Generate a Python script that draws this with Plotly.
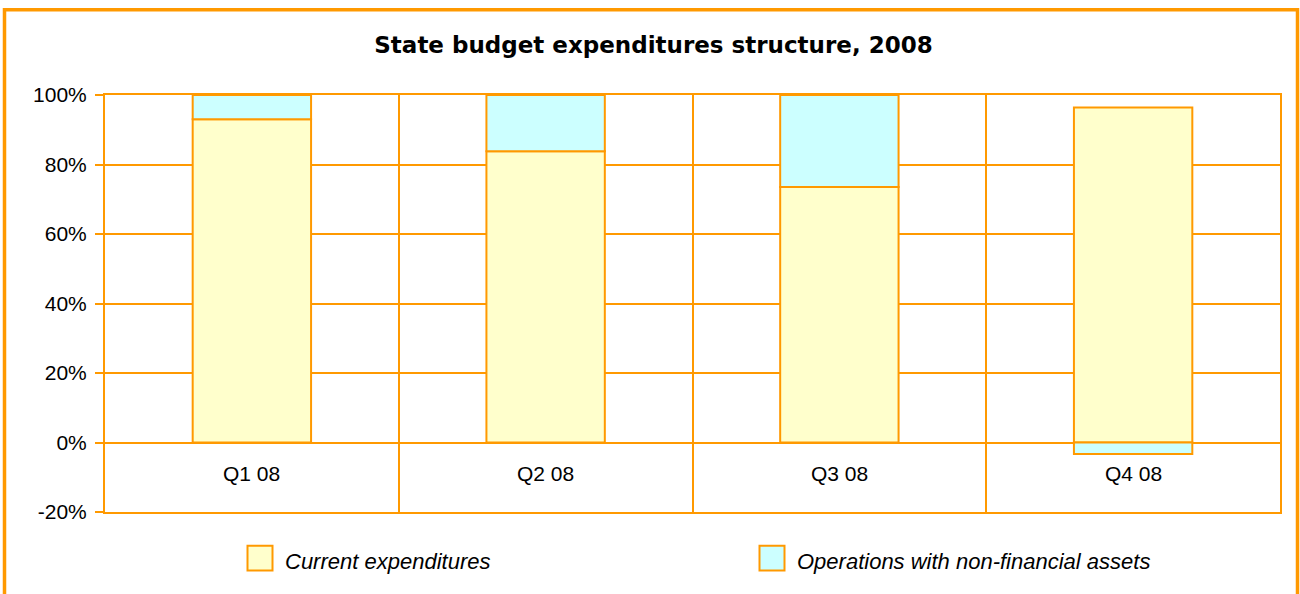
import plotly.graph_objects as go

categories = ["Q1 08", "Q2 08", "Q3 08", "Q4 08"]
current_exp = [93.0, 83.8, 73.5, 96.4]
nonfin_ops = [7.0, 16.2, 26.5, -3.3]
series_names = ["Current expenditures", "Operations with non-financial assets"]
y_ticks = [-20, 0, 20, 40, 60, 80, 100]
y_tick_labels = ["-20%", "0%", "20%", "40%", "60%", "80%", "100%"]

ORANGE = "#FF9900"
FILL_CUR = "#FFFFCC"
FILL_NF = "#CCFFFF"
FONT = "Liberation Sans, Arial, sans-serif"

W, H = 1300, 594
L, R, T, B = 105, 20, 94.5, 81.7
pw = W - L - R
ph = H - T - B


def px(x):
    return (x - L) / pw


def py(y):
    return (H - B - y) / ph


fig = go.Figure()
fig.add_trace(go.Bar(x=categories, y=current_exp, name=series_names[0],
                     marker=dict(color=FILL_CUR, line=dict(color=ORANGE, width=2)),
                     width=0.403, showlegend=False))
fig.add_trace(go.Bar(x=categories, y=nonfin_ops, name=series_names[1],
                     marker=dict(color=FILL_NF, line=dict(color=ORANGE, width=2)),
                     width=0.403, showlegend=False))

# category labels next to the zero line
for c in categories:
    fig.add_annotation(x=c, y=0, xref="x", yref="y", text=c, showarrow=False,
                       yanchor="middle", yshift=-31,
                       font=dict(family=FONT, size=21, color="#000000"))

# custom legend
legend_items = [(247.5, 272.5, 283, series_names[0], FILL_CUR),
                (759.5, 784.5, 795, series_names[1], FILL_NF)]
for x0, x1, tx, name, col in legend_items:
    fig.add_shape(type="rect", xref="paper", yref="paper",
                  x0=px(x0), x1=px(x1), y0=py(571), y1=py(546),
                  fillcolor=col, line=dict(color=ORANGE, width=2))
    fig.add_annotation(xref="paper", yref="paper", x=px(tx), y=py(562),
                       xanchor="left", yanchor="middle", showarrow=False,
                       text=name,
                       font=dict(family=FONT, size=22, style="italic", color="#000000"))

# outer frame
fig.add_shape(type="rect", xref="paper", yref="paper", layer="below",
              x0=px(4.5), x1=px(1297.5), y0=py(9), y1=py(640),
              line=dict(color=ORANGE, width=3.5), fillcolor="rgba(0,0,0,0)")

fig.update_layout(
    width=W, height=H,
    margin=dict(l=L, r=R, t=T, b=B, pad=0),
    paper_bgcolor="white", plot_bgcolor="white",
    barmode="relative", bargap=0.597,
    title=dict(text="<b>State budget expenditures structure, 2008</b>",
               x=653.5 / W, xanchor="center", y=1 - 45 / H, yanchor="middle",
               xref="container", yref="container",
               font=dict(family="DejaVu Sans, sans-serif", size=23, color="#000000")),
    xaxis=dict(type="category", tickson="boundaries", showgrid=True,
               gridcolor=ORANGE, gridwidth=2, showticklabels=False, ticks="",
               showline=True, linecolor=ORANGE, linewidth=2, mirror=True,
               range=[-0.5, 3.5], zeroline=False),
    yaxis=dict(range=[-20, 100], tickvals=y_ticks, ticktext=y_tick_labels,
               showgrid=True, gridcolor=ORANGE, gridwidth=2,
               ticks="outside", ticklen=8, tickcolor=ORANGE, tickwidth=2,
               showline=True, linecolor=ORANGE, linewidth=2, mirror=True,
               zeroline=True, zerolinecolor=ORANGE, zerolinewidth=2,
               ticklabelstandoff=4,
               tickfont=dict(family=FONT, size=21, color="#000000")),
)

fig.write_html("out.html", config={"displayModeBar": False},
               post_script="document.body.style.margin='0';document.body.style.overflow='hidden';")
